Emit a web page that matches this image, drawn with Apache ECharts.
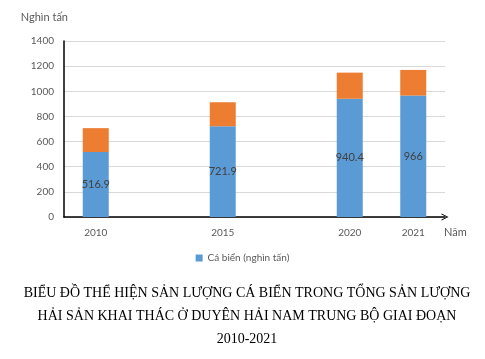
<!DOCTYPE html>
<html><head><meta charset="utf-8">
<script src="https://cdn.jsdelivr.net/npm/echarts@6/dist/echarts.min.js"></script>
<style>html,body{margin:0;padding:0;background:#fff}#c{width:485px;height:359px}</style>
</head><body><div id="c"></div>
<script>
const categories = ['2010', '', '2015', '', '2020', '2021'];
const fishValues = [516.9, null, 721.9, null, 940.4, 966];
const otherValues = [190, null, 191, null, 208, 204];
const yTicks = [0, 200, 400, 600, 800, 1000, 1200, 1400];
const fishName = 'Cá biển (nghìn tấn)';
const otherName = 'Hải sản khác';
const titleText = 'BIỂU ĐỒ THỂ HIỆN SẢN LƯỢNG CÁ BIỂN TRONG TỔNG SẢN LƯỢNG\nHẢI SẢN KHAI THÁC Ở DUYÊN HẢI NAM TRUNG BỘ GIAI ĐOẠN\n2010-2021';

const font = 'Lato, "Open Sans", sans-serif';
const chart = echarts.init(document.getElementById('c'), null, {renderer: 'canvas'});
chart.setOption({
  animation: false,
  backgroundColor: '#fff',
  title: {
    text: titleText, left: 242, top: 277, textAlign: 'center',
    textStyle: {fontFamily: '"Liberation Serif", "Times New Roman", serif', fontSize: 14, fontWeight: 'normal', color: '#000', lineHeight: 23}
  },
  legend: {
    data: [fishName], top: 248, left: 'center', itemWidth: 7, itemHeight: 7, icon: 'rect',
    textStyle: {fontFamily: font, fontSize: 10, color: '#595959'}
  },
  grid: {left: 64, right: 40, top: 41, bottom: 142},
  xAxis: {
    type: 'category', data: categories, boundaryGap: true,
    name: 'Năm', nameLocation: 'end', nameGap: -1,
    nameTextStyle: {fontFamily: font, fontSize: 11, color: '#595959', verticalAlign: 'top', padding: [10, 0, 0, 0]},
    axisLine: {show: true, lineStyle: {color: '#000', width: 1.5}, symbol: ['none', 'path://M0,10 L5,0 L10,10 L8.6,10 L5,2.6 L1.4,10 Z'], symbolSize: [8, 7], symbolOffset: [0, 0]},
    axisTick: {show: false},
    axisLabel: {fontFamily: font, fontSize: 10, color: '#595959', margin: 11, interval: 0}
  },
  yAxis: {
    type: 'value', min: 0, max: 1400, interval: 200,
    name: 'Nghìn tấn', nameLocation: 'end', nameGap: 18,
    nameTextStyle: {fontFamily: font, fontSize: 11, color: '#595959', align: 'right', padding: [0, -4, 0, 0]},
    axisLine: {show: true, lineStyle: {color: '#000', width: 1.5}},
    axisTick: {show: false},
    axisLabel: {fontFamily: font, fontSize: 10, color: '#595959', margin: 10,
      formatter: v => yTicks.includes(v) ? String(v) : ''},
    splitLine: {lineStyle: {color: '#d9d9d9', width: 1}}
  },
  series: [
    {name: fishName, type: 'bar', stack: 't', data: fishValues, barWidth: 26,
      itemStyle: {color: '#5B9BD5'},
      label: {show: true, position: 'inside', fontFamily: font, fontSize: 11, color: '#404040'}},
    {name: otherName, type: 'bar', stack: 't', data: otherValues, barWidth: 26,
      itemStyle: {color: '#ED7D31'}}
  ]
});
</script></body></html>
